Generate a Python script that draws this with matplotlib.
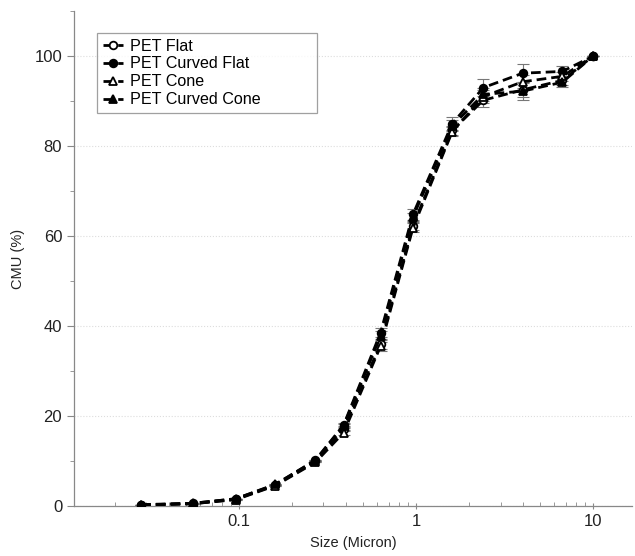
import matplotlib
matplotlib.use("Agg")
import matplotlib.pyplot as plt
from matplotlib.ticker import FixedLocator, MultipleLocator, LogLocator, NullFormatter

plt.rcParams['font.family'] = ['Liberation Sans', 'DejaVu Sans']

size = [0.028, 0.055, 0.096, 0.16, 0.27, 0.39, 0.63, 0.96, 1.6, 2.4, 4.0, 6.7, 10]

pet_flat = [0.2, 0.5, 1.5, 4.6, 9.9, 17.2, 36.0, 62.3, 83.5, 90.2, 92.5, 94.6, 100]
pet_curved_flat = [0.2, 0.6, 1.6, 4.7, 10.2, 18.0, 38.5, 64.8, 85.0, 93.0, 96.2, 96.6, 100]
pet_cone = [0.2, 0.5, 1.4, 4.5, 9.7, 16.3, 35.5, 61.8, 83.2, 91.0, 94.3, 95.5, 100]
pet_curved_cone = [0.3, 0.6, 1.6, 4.8, 10.1, 17.8, 37.8, 64.2, 84.5, 91.5, 92.2, 94.2, 100]

err_flat = [0, 0, 0, 0, 0, 0.5, 1.2, 1.0, 1.0, 1.5, 1.5, 1.0, 0]
err_curved_flat = [0, 0, 0, 0, 0, 0.5, 1.0, 1.2, 1.5, 1.8, 2.0, 1.2, 0]
err_cone = [0, 0, 0, 0, 0, 0.5, 1.0, 1.0, 1.0, 1.5, 1.5, 1.0, 0]
err_curved_cone = [0, 0, 0, 0, 0, 0.5, 1.0, 1.0, 1.2, 1.5, 2.0, 1.0, 0]

series = [
    ("PET Flat", pet_flat, err_flat, "o", "white"),
    ("PET Curved Flat", pet_curved_flat, err_curved_flat, "o", "black"),
    ("PET Cone", pet_cone, err_cone, "^", "white"),
    ("PET Curved Cone", pet_curved_cone, err_curved_cone, "^", "black"),
]

fig = plt.figure(figsize=(6.35, 5.56), dpi=100)
ax = fig.add_axes([0.1165, 0.090, 0.879, 0.890])

for label, vals, err, mk, fc in series:
    ax.errorbar(size, vals, yerr=err, fmt="none", ecolor="#777777",
                elinewidth=0.8, capsize=4, capthick=0.8, zorder=2)
    ax.plot(size, vals, linestyle=(0, (3.5, 1.8)), color="black", linewidth=2,
            marker=mk, markersize=5.5, markerfacecolor=fc,
            markeredgecolor="black", markeredgewidth=1.3, label=label, zorder=3)

ax.set_xscale("log")
ax.set_xlim(0.0117, 16.6)
ax.set_ylim(0, 110)
ax.xaxis.set_major_locator(FixedLocator([0.1, 1, 10]))
ax.set_xticklabels(["0.1", "1", "10"])
ax.xaxis.set_minor_locator(LogLocator(base=10, subs=range(2, 10)))
ax.xaxis.set_minor_formatter(NullFormatter())
ax.yaxis.set_major_locator(FixedLocator([0, 20, 40, 60, 80, 100]))
ax.yaxis.set_minor_locator(MultipleLocator(10))

ax.grid(axis="y", which="major", color="#dddddd", linewidth=0.8, linestyle=":")
ax.set_axisbelow(True)

for s in ["top", "right"]:
    ax.spines[s].set_visible(False)
for s in ["left", "bottom"]:
    ax.spines[s].set_color("#888888")
    ax.spines[s].set_linewidth(0.9)

ax.tick_params(axis="both", which="both", colors="#888888", labelcolor="#222222",
               labelsize=12)
ax.tick_params(axis="y", which="major", length=5)
ax.tick_params(axis="y", which="minor", length=3)
ax.tick_params(axis="x", which="major", length=5, direction="inout")
ax.tick_params(axis="x", which="minor", length=3, direction="in")

ax.set_xlabel("Size (Micron)", fontsize=10.5, color="#222222", labelpad=5)
ax.set_ylabel("CMU (%)", fontsize=10.5, color="#222222")
ax.yaxis.set_label_coords(-0.087, 0.5)

leg = ax.legend(loc="upper left", bbox_to_anchor=(0.041, 0.794, 0.394, 0.162),
                mode="expand", fontsize=11.6, frameon=True, fancybox=False,
                handlelength=1.3, handletextpad=0.4, borderpad=0.35,
                labelspacing=0.18, borderaxespad=0)
leg.get_frame().set_edgecolor("#888888")
leg.get_frame().set_linewidth(0.9)

fig.savefig("out.png", dpi=100)
